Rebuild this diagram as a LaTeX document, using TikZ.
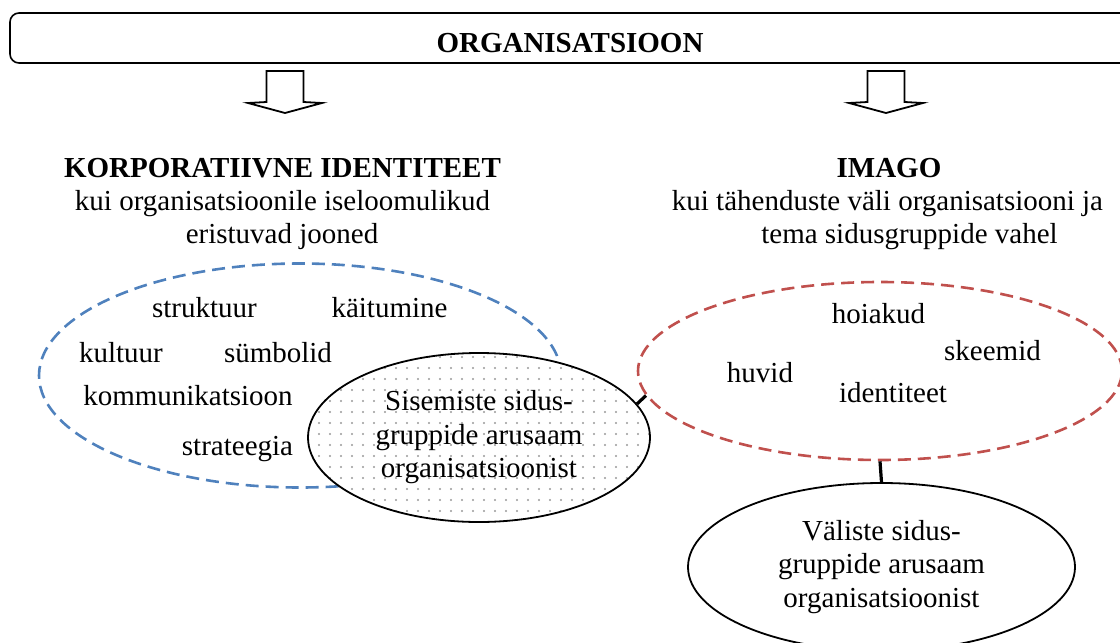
\documentclass[tikz,border=0pt]{standalone}
\usepackage{fontspec}
\setmainfont{Liberation Serif}
\usetikzlibrary{shapes.geometric,patterns.meta}

\definecolor{idblue}{HTML}{4F81BD}
\definecolor{imgred}{HTML}{C0504D}
\definecolor{dotgray}{HTML}{9A9A9A}

\tikzset{
  txt/.style={anchor=base, inner sep=0pt, font=\fontsize{14.5}{16.75}\selectfont},
  btxt/.style={txt, font=\fontsize{14.5}{16.75}\selectfont\bfseries},
  topbox/.style={draw, line width=0.8pt, rounded corners=4.5pt, inner sep=0pt,
    minimum width=560pt, minimum height=25pt},
  blockarrow/.style={draw, line width=0.9pt, fill=white, line join=miter},
  dashell/.style={ellipse, draw, dashed, line width=1.3pt,
    dash pattern=on 6.5pt off 3.5pt, inner sep=0pt},
  solidell/.style={ellipse, draw, line width=0.9pt, inner sep=0pt, align=center,
    font=\fontsize{14.5}{16.75}\selectfont},
  link/.style={line width=1.6pt},
}

\begin{document}
\begin{tikzpicture}[x=0.5pt, y=-0.5pt]
\useasboundingbox (0,0) rectangle (1120,643);

% title bar
\node[topbox] (org) at (570,38) {};
\node[btxt] (orgt) at (570,52) {ORGANISATSIOON};

% two hollow arrows under the title bar
\draw[blockarrow, shift={(285,71)}]
  (-18.5,0) -- (18.5,0) -- (18.5,31) -- (37,32) -- (0,42) -- (-37,32) -- (-18.5,31) -- cycle;
\draw[blockarrow, shift={(886,71)}]
  (-18.5,0) -- (18.5,0) -- (18.5,31) -- (37,32) -- (0,42) -- (-37,32) -- (-18.5,31) -- cycle;

% left heading
\node[btxt] (kih) at (282.5,177) {KORPORATIIVNE IDENTITEET};
\node[txt] (kil1) at (282.5,210) {kui organisatsioonile iseloomulikud};
\node[txt] (kil2) at (282,243) {eristuvad jooned};

% right heading
\node[btxt] (imh) at (889,177) {IMAGO};
\node[txt] (iml1) at (887.5,210) {kui tähenduste väli organisatsiooni ja};
\node[txt] (iml2) at (909.5,243) {tema sidusgruppide vahel};

% corporate identity field
\node[dashell, draw=idblue, minimum width=261pt, minimum height=112pt] (ident) at (300,375.5) {};
\node[txt] (w1) at (204.5,317) {struktuur};
\node[txt] (w2) at (389.5,317) {käitumine};
\node[txt] (w3) at (121,362) {kultuur};
\node[txt] (w4) at (278,362) {sümbolid};
\node[txt] (w5) at (188,405) {kommunikatsioon};
\node[txt] (w6) at (237.5,455) {strateegia};

% image field
\node[dashell, draw=imgred, minimum width=242pt, minimum height=89pt] (img) at (880,371) {};
\node[txt] (v1) at (878.5,323) {hoiakud};
\node[txt] (v2) at (992.5,360) {skeemid};
\node[txt] (v3) at (760,382) {huvid};
\node[txt] (v4) at (893,402) {identiteet};

% internal stakeholders
\node[solidell, minimum width=171pt, minimum height=84.5pt,
  preaction={fill=white}, pattern={Dots[distance=5.5pt, radius=0.6pt]}, pattern color=dotgray]
  (sis) at (479,437.5) {Sisemiste sidus-\\gruppide arusaam\\organisatsioonist};

% external stakeholders
\node[solidell, fill=white, minimum width=193.5pt, minimum height=84pt]
  (val) at (881.5,567) {Väliste sidus-\\gruppide arusaam\\organisatsioonist};

% connectors
\draw[link] (sis.12) -- (img.186);
\draw[link] (img.south) -- (val.north);
\end{tikzpicture}
\end{document}
